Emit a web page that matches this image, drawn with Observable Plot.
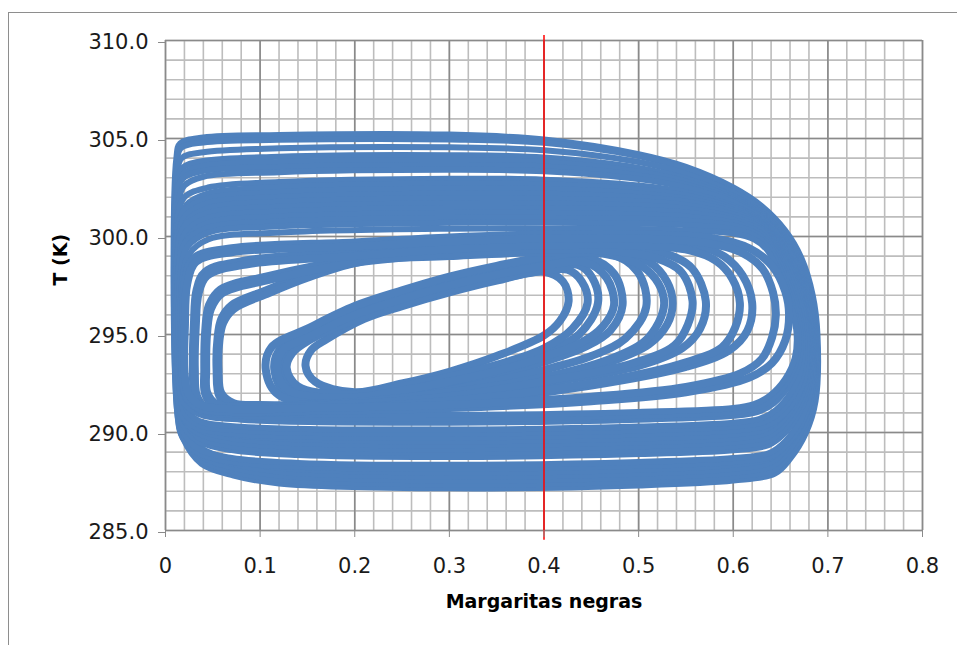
<!DOCTYPE html>
<html>
<head>
<meta charset="utf-8">
<script src="https://cdn.jsdelivr.net/npm/d3@7"></script>
<script src="https://cdn.jsdelivr.net/npm/@observablehq/plot@0.6"></script>
<style>
  html, body { margin: 0; padding: 0; background: #fff; }
  body { width: 957px; height: 645px; position: relative; overflow: hidden; font-family: "DejaVu Sans", sans-serif; }
  #frame { position: absolute; left: 8px; top: 12px; width: 1200px; height: 900px; border-left: 1px solid #8e8e8e; border-top: 1px solid #8e8e8e; }
  #chart { position: absolute; left: 0; top: 0; }
</style>
</head>
<body>
<div id="frame"></div>
<div id="chart"></div>
<script>
// Axis ticks
const xTicks = [0, 0.1, 0.2, 0.3, 0.4, 0.5, 0.6, 0.7, 0.8];
const yTicks = [285, 290, 295, 300, 305, 310];

// Red marker at 0.4 black daisies
const markerX = [0.4];
const markerSpan = [284.5, 310.25];

// Large cycles: [black daisy fraction, temperature K]
const outerLoops = [
  [[0.0115,304.0],[0.0155,304.75],[0.04,305.05],[0.12,305.18],[0.3,305.2],[0.4,304.95],[0.5,304.2],[0.55,303.55],[0.6,302.5],[0.63,301.55],[0.655,300.3],[0.672,298.9],[0.684,297.0],[0.689,295.0],[0.687,291.6],[0.677,290.0],[0.66,288.65],[0.644,287.9],[0.6,287.55],[0.5,287.3],[0.3,287.15],[0.12,287.4],[0.072,287.8],[0.038,288.4],[0.0185,289.7],[0.0125,291.0]],
  [[0.012,303.75],[0.016,304.5],[0.04,304.8],[0.12,304.93],[0.3,304.95],[0.4,304.78],[0.5,304.1],[0.55,303.45],[0.6,302.45],[0.63,301.5],[0.654,300.3],[0.671,298.85],[0.683,297.0],[0.688,295.0],[0.686,291.8],[0.676,290.2],[0.659,288.85],[0.643,288.1],[0.6,287.75],[0.5,287.5],[0.3,287.35],[0.12,287.6],[0.072,288.0],[0.038,288.6],[0.019,289.9],[0.013,291.2]],
  [[0.0125,303.2],[0.017,304.0],[0.04,304.3],[0.12,304.5],[0.3,304.55],[0.4,304.4],[0.5,303.8],[0.55,303.2],[0.6,302.25],[0.63,301.35],[0.653,300.2],[0.67,298.8],[0.682,297.0],[0.687,295.0],[0.685,292.0],[0.675,290.4],[0.658,289.05],[0.642,288.3],[0.6,287.95],[0.5,287.7],[0.3,287.55],[0.12,287.8],[0.072,288.2],[0.038,288.8],[0.0195,290.1],[0.0135,291.4]],
  [[0.013,302.6],[0.018,303.5],[0.04,303.85],[0.12,304.07],[0.3,304.15],[0.4,304.03],[0.5,303.5],[0.55,302.95],[0.6,302.05],[0.63,301.2],[0.652,300.1],[0.669,298.7],[0.681,296.9],[0.686,295.0],[0.684,292.2],[0.674,290.6],[0.657,289.25],[0.641,288.5],[0.6,288.15],[0.5,287.9],[0.3,287.75],[0.12,288.0],[0.072,288.4],[0.038,289.0],[0.02,290.3],[0.014,291.6]],
  [[0.0135,302.3],[0.019,303.2],[0.04,303.6],[0.12,303.8],[0.3,303.9],[0.4,303.8],[0.5,303.3],[0.55,302.8],[0.6,301.95],[0.63,301.1],[0.651,300.05],[0.668,298.65],[0.68,296.9],[0.685,295.0],[0.683,292.4],[0.673,290.8],[0.656,289.45],[0.64,288.7],[0.6,288.35],[0.5,288.1],[0.3,287.95],[0.12,288.2],[0.072,288.6],[0.038,289.2],[0.0205,290.5],[0.0145,291.8]],
  [[0.012,302.0],[0.018,302.95],[0.04,303.35],[0.12,303.55],[0.3,303.65],[0.4,303.57],[0.5,303.12],[0.55,302.65],[0.6,301.85],[0.63,301.0],[0.65,300.0],[0.667,298.6],[0.679,296.9],[0.684,295.0],[0.682,291.75],[0.672,290.45],[0.656,289.35],[0.639,288.75],[0.6,288.5],[0.5,288.3],[0.3,288.15],[0.14,288.25],[0.07,288.5],[0.035,288.95],[0.018,289.75],[0.013,290.75]],
  [[0.014,301.7],[0.02,302.6],[0.04,303.05],[0.12,303.28],[0.3,303.4],[0.4,303.33],[0.5,302.93],[0.55,302.5],[0.6,301.75],[0.63,300.92],[0.649,299.95],[0.666,298.55],[0.678,296.8],[0.683,295.0],[0.681,291.95],[0.671,290.65],[0.655,289.55],[0.638,288.95],[0.6,288.7],[0.5,288.5],[0.3,288.35],[0.14,288.45],[0.07,288.7],[0.035,289.15],[0.02,289.95],[0.015,290.95]],
  [[0.013,300.9],[0.02,302.0],[0.045,302.5],[0.12,302.78],[0.3,302.95],[0.4,302.9],[0.5,302.6],[0.55,302.25],[0.6,301.55],[0.63,300.8],[0.648,299.85],[0.665,298.45],[0.677,296.8],[0.682,295.0],[0.68,292.35],[0.67,291.05],[0.654,289.95],[0.637,289.35],[0.6,289.1],[0.5,288.9],[0.3,288.75],[0.14,288.85],[0.07,289.1],[0.035,289.55],[0.019,290.35],[0.014,291.35]],
  [[0.015,300.5],[0.022,301.6],[0.045,302.2],[0.12,302.52],[0.3,302.7],[0.4,302.66],[0.5,302.4],[0.55,302.1],[0.6,301.45],[0.63,300.72],[0.647,299.8],[0.664,298.4],[0.676,296.7],[0.681,295.0],[0.679,292.55],[0.669,291.25],[0.653,290.15],[0.636,289.55],[0.6,289.3],[0.5,289.1],[0.3,288.95],[0.14,289.05],[0.07,289.3],[0.035,289.75],[0.021,290.55],[0.016,291.55]],
  [[0.0125,300.2],[0.02,301.35],[0.045,301.95],[0.12,302.27],[0.3,302.45],[0.4,302.42],[0.5,302.2],[0.55,301.93],[0.6,301.35],[0.63,300.65],[0.646,299.75],[0.663,298.35],[0.675,296.7],[0.68,295.0],[0.678,292.75],[0.668,291.45],[0.652,290.35],[0.635,289.75],[0.6,289.5],[0.5,289.3],[0.3,289.15],[0.14,289.25],[0.07,289.5],[0.035,289.95],[0.0185,290.75],[0.0135,291.75]],
  [[0.014,299.9],[0.021,301.05],[0.045,301.7],[0.12,302.02],[0.3,302.2],[0.4,302.18],[0.5,302.0],[0.55,301.77],[0.6,301.25],[0.63,300.58],[0.645,299.7],[0.662,298.3],[0.674,296.6],[0.679,295.0],[0.677,292.95],[0.667,291.65],[0.651,290.55],[0.634,289.95],[0.6,289.7],[0.5,289.5],[0.3,289.35],[0.14,289.45],[0.07,289.7],[0.035,290.15],[0.02,290.95],[0.015,291.95]],
  [[0.016,299.6],[0.023,300.8],[0.045,301.45],[0.12,301.77],[0.3,301.95],[0.4,301.93],[0.5,301.8],[0.55,301.6],[0.6,301.12],[0.63,300.5],[0.644,299.65],[0.661,298.25],[0.673,296.6],[0.678,295.0],[0.676,293.15],[0.666,291.85],[0.65,290.75],[0.633,290.15],[0.6,289.9],[0.5,289.7],[0.3,289.55],[0.14,289.65],[0.07,289.9],[0.035,290.35],[0.022,291.15],[0.017,292.15]],
  [[0.013,299.3],[0.02,300.5],[0.045,301.2],[0.12,301.52],[0.3,301.7],[0.4,301.69],[0.5,301.58],[0.55,301.42],[0.6,300.98],[0.63,300.4],[0.643,299.6],[0.66,298.2],[0.672,296.5],[0.677,295.0],[0.675,292.75],[0.665,291.65],[0.649,290.75],[0.632,290.3],[0.6,290.1],[0.5,289.9],[0.3,289.75],[0.08,289.9],[0.035,290.2],[0.019,290.75],[0.014,291.55]],
  [[0.015,299.0],[0.022,300.25],[0.045,300.95],[0.12,301.27],[0.3,301.45],[0.4,301.44],[0.5,301.36],[0.55,301.22],[0.6,300.85],[0.63,300.3],[0.642,299.55],[0.658,298.15],[0.67,296.5],[0.675,295.0],[0.673,292.95],[0.663,291.85],[0.647,290.95],[0.63,290.5],[0.6,290.3],[0.5,290.1],[0.3,289.95],[0.08,290.1],[0.035,290.4],[0.021,290.95],[0.016,291.75]],
  [[0.017,298.7],[0.024,300.0],[0.045,300.7],[0.12,301.02],[0.3,301.2],[0.4,301.2],[0.5,301.13],[0.55,301.02],[0.6,300.7],[0.628,300.2],[0.641,299.5],[0.656,298.1],[0.668,296.4],[0.673,295.0],[0.671,293.15],[0.661,292.05],[0.645,291.15],[0.628,290.7],[0.6,290.5],[0.5,290.3],[0.3,290.15],[0.08,290.3],[0.035,290.6],[0.023,291.15],[0.018,291.95]],
  [[0.014,298.4],[0.021,299.7],[0.045,300.45],[0.12,300.77],[0.3,300.95],[0.4,300.95],[0.5,300.9],[0.55,300.8],[0.6,300.55],[0.626,300.1],[0.64,299.45],[0.654,298.05],[0.666,296.4],[0.671,295.0],[0.669,293.5],[0.659,292.4],[0.643,291.5],[0.626,291.05],[0.6,290.85],[0.5,290.65],[0.3,290.5],[0.08,290.65],[0.035,290.95],[0.02,291.5],[0.015,292.3]],
  [[0.016,298.1],[0.023,299.45],[0.045,300.2],[0.12,300.52],[0.3,300.7],[0.4,300.7],[0.5,300.66],[0.55,300.58],[0.6,300.38],[0.624,300.0],[0.638,299.4],[0.652,298.0],[0.664,296.3],[0.669,295.0],[0.667,293.7],[0.657,292.6],[0.641,291.7],[0.624,291.25],[0.6,291.05],[0.5,290.85],[0.3,290.7],[0.08,290.85],[0.035,291.15],[0.022,291.7],[0.017,292.5]],
  [[0.018,297.8],[0.025,299.1],[0.045,299.85],[0.12,300.2],[0.3,300.4],[0.4,300.4],[0.5,300.38],[0.55,300.3],[0.6,300.15],[0.622,299.85],[0.636,299.3],[0.65,297.95],[0.662,296.3],[0.667,295.0],[0.665,293.8],[0.655,292.75],[0.639,291.9],[0.622,291.45],[0.6,291.25],[0.5,291.05],[0.3,290.9],[0.08,291.05],[0.035,291.35],[0.023,291.9],[0.018,292.7]]
];

// Smaller cycles turning back inside the band (left arcs and right-hand C shapes)
const innerLoops = [
  [[0.148,293.4],[0.158,292.6],[0.2,292.05],[0.25,292.5],[0.3,293.1],[0.35,293.9],[0.4,294.95],[0.417,295.7],[0.426,296.7],[0.42,297.7],[0.4,298.2],[0.35,297.75],[0.3,297.15],[0.25,296.45],[0.21,295.8],[0.17,294.75],[0.154,294.2]],
  [[0.125,293.3],[0.138,292.2],[0.2,291.75],[0.25,292.15],[0.3,292.65],[0.35,293.25],[0.4,294.05],[0.437,295.0],[0.457,296.6],[0.451,297.9],[0.436,298.55],[0.4,298.45],[0.35,298.0],[0.3,297.45],[0.25,296.75],[0.2,295.95],[0.15,294.8],[0.131,294.15]],
  [[0.128,293.3],[0.14,292.35],[0.2,291.95],[0.25,292.35],[0.3,292.85],[0.35,293.45],[0.4,294.3],[0.43,295.3],[0.446,296.6],[0.44,297.7],[0.425,298.3],[0.4,298.25],[0.35,297.8],[0.3,297.25],[0.25,296.55],[0.2,295.75],[0.15,294.65],[0.134,294.05]],
  [[0.115,293.2],[0.128,292.0],[0.2,291.6],[0.25,291.95],[0.3,292.4],[0.35,292.95],[0.4,293.6],[0.445,294.4],[0.47,295.2],[0.483,296.5],[0.474,298.1],[0.447,298.9],[0.4,298.7],[0.35,298.25],[0.3,297.7],[0.25,297.0],[0.2,296.2],[0.15,295.0],[0.121,294.25]],
  [[0.118,293.2],[0.13,292.15],[0.2,291.8],[0.25,292.15],[0.3,292.6],[0.35,293.15],[0.4,293.85],[0.44,294.6],[0.462,295.4],[0.474,296.5],[0.466,297.9],[0.442,298.7],[0.4,298.5],[0.35,298.05],[0.3,297.5],[0.25,296.8],[0.2,296.0],[0.15,294.85],[0.124,294.2]],
  [[0.106,293.2],[0.12,291.9],[0.2,291.45],[0.3,292.15],[0.4,293.2],[0.45,293.9],[0.486,294.8],[0.508,296.4],[0.499,298.2],[0.467,299.15],[0.4,298.95],[0.35,298.5],[0.3,297.95],[0.25,297.25],[0.2,296.45],[0.15,295.3],[0.112,294.35]],
  [[0.054,293.2],[0.055,294.8],[0.059,295.8],[0.07,296.5],[0.106,297.25],[0.15,298.1],[0.21,298.95],[0.3,299.2],[0.4,299.4],[0.47,299.3],[0.511,298.7],[0.53,297.7],[0.536,296.6],[0.53,295.5],[0.511,294.5],[0.47,293.6],[0.4,292.7],[0.3,291.95],[0.2,291.4],[0.1,291.2],[0.07,291.3],[0.057,291.85]],
  [[0.056,293.2],[0.057,294.7],[0.061,295.6],[0.072,296.3],[0.106,297.05],[0.15,297.9],[0.21,298.75],[0.3,299.0],[0.4,299.2],[0.465,299.1],[0.503,298.5],[0.521,297.6],[0.527,296.6],[0.521,295.6],[0.505,294.6],[0.467,293.7],[0.4,292.82],[0.3,292.05],[0.2,291.55],[0.1,291.4],[0.072,291.5],[0.059,292.0]],
  [[0.041,293.2],[0.042,295.2],[0.046,296.5],[0.058,297.3],[0.106,297.95],[0.2,298.85],[0.3,299.3],[0.4,299.55],[0.48,299.5],[0.527,299.15],[0.556,298.4],[0.571,296.7],[0.565,295.3],[0.546,294.3],[0.5,293.4],[0.4,292.5],[0.3,291.7],[0.15,291.2],[0.08,291.15],[0.052,291.3],[0.042,291.95]],
  [[0.043,293.2],[0.044,295.1],[0.048,296.3],[0.06,297.1],[0.106,297.75],[0.2,298.65],[0.3,299.1],[0.4,299.35],[0.475,299.25],[0.518,298.9],[0.545,298.2],[0.557,296.7],[0.552,295.5],[0.538,294.45],[0.493,293.52],[0.4,292.62],[0.3,291.85],[0.15,291.35],[0.08,291.3],[0.054,291.45],[0.044,292.05]],
  [[0.029,293.2],[0.03,295.5],[0.033,297.3],[0.042,298.2],[0.088,298.8],[0.2,299.2],[0.3,299.55],[0.4,299.75],[0.5,299.75],[0.56,299.55],[0.59,299.0],[0.61,298.0],[0.62,296.6],[0.615,295.2],[0.596,294.2],[0.55,293.35],[0.45,292.4],[0.3,291.5],[0.15,291.1],[0.07,291.05],[0.04,291.2],[0.031,291.8]],
  [[0.031,293.2],[0.032,295.4],[0.035,297.1],[0.044,298.0],[0.088,298.6],[0.2,299.0],[0.3,299.35],[0.4,299.55],[0.5,299.55],[0.553,299.3],[0.582,298.75],[0.599,297.85],[0.607,296.6],[0.602,295.35],[0.588,294.35],[0.543,293.48],[0.45,292.52],[0.3,291.62],[0.15,291.2],[0.07,291.15],[0.042,291.3],[0.033,291.9]],
  [[0.018,293.2],[0.0185,295.5],[0.021,297.8],[0.03,298.9],[0.07,299.4],[0.2,299.7],[0.3,299.95],[0.4,300.1],[0.5,300.1],[0.58,299.9],[0.617,299.4],[0.641,298.5],[0.655,297.2],[0.659,296.0],[0.655,294.7],[0.641,293.55],[0.617,292.8],[0.55,292.05],[0.45,291.6],[0.3,291.25],[0.15,291.1],[0.07,291.05],[0.035,291.25],[0.022,291.9]],
  [[0.02,293.2],[0.0205,295.4],[0.023,297.6],[0.032,298.7],[0.07,299.2],[0.2,299.5],[0.3,299.75],[0.4,299.9],[0.5,299.9],[0.575,299.65],[0.61,299.15],[0.631,298.35],[0.642,297.15],[0.645,296.0],[0.641,294.85],[0.63,293.75],[0.608,293.03],[0.55,292.33],[0.45,291.83],[0.3,291.42],[0.15,291.25],[0.07,291.2],[0.037,291.4],[0.024,292.0]]
];

const toRows = (loops, name) =>
  loops.flatMap((pts, i) => pts.map(([x, T]) => ({loop: name + i, x, T})));

const outerRows = toRows(outerLoops, "outer");
const innerRows = toRows(innerLoops, "inner");

const blue = "#4f81bd";

const chart = Plot.plot({
  width: 957,
  height: 645,
  marginLeft: 165,
  marginRight: 35,
  marginTop: 40,
  marginBottom: 115,
  x: {domain: [0, 0.8]},
  y: {domain: [285, 310]},
  style: {background: "transparent", fontFamily: "DejaVu Sans", color: "#1a1a1a"},
  marks: [
    Plot.gridX({ticks: 40, stroke: "#bdbdbd", strokeOpacity: 1, strokeWidth: 1.6}),
    Plot.gridY({ticks: 25, stroke: "#bdbdbd", strokeOpacity: 1, strokeWidth: 1.6}),
    Plot.gridX(xTicks, {stroke: "#8a8a8a", strokeOpacity: 1, strokeWidth: 1.6}),
    Plot.gridY(yTicks, {stroke: "#8a8a8a", strokeOpacity: 1, strokeWidth: 1.6}),
    Plot.line(outerRows, {x: "x", y: "T", z: "loop", curve: "catmull-rom-closed", stroke: blue, strokeWidth: 6}),
    Plot.line(innerRows, {x: "x", y: "T", z: "loop", curve: "catmull-rom-closed", stroke: blue, strokeWidth: 8}),
    Plot.ruleX(markerX, {y1: markerSpan[0], y2: markerSpan[1], stroke: "#ff0000", strokeWidth: 1.5}),
    Plot.axisY(yTicks, {tickFormat: d => d.toFixed(1), tickSize: 7, tickPadding: 10, fontSize: 21, stroke: "#8a8a8a", label: null, dy: 2}),
    Plot.axisX(xTicks, {tickFormat: d => String(d), tickSize: 7, tickPadding: 21, fontSize: 21, stroke: "#8a8a8a", label: null}),
    Plot.text(["T (K)"], {frameAnchor: "left", dx: -105, rotate: -90, fontSize: 19, fontWeight: "bold", fill: "#000"}),
    Plot.text(["Margaritas negras"], {frameAnchor: "bottom", dy: 77, fontSize: 19, fontWeight: "bold", fill: "#000"})
  ]
});

document.getElementById("chart").appendChild(chart);
</script>
</body>
</html>
